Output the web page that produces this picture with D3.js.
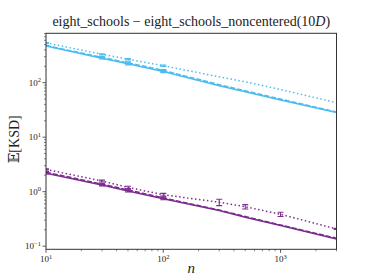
<!DOCTYPE html>
<html>
<head>
<meta charset="utf-8">
<script src="https://cdn.jsdelivr.net/npm/d3@7"></script>
<style>
  body { margin: 0; background: #fff; }
</style>
</head>
<body>
<div id="chart"></div>
<script>
// sample sizes
const nValues = [10, 30, 50, 100, 300, 500, 1000, 3000];

// blue series (solid / dashed / dotted)
const blueSolid  = [470, 282, 222, 160, 88, 68, 48, 28.5];
const blueDashed = [480, 292, 232, 168, 92, 71, 50, 29];
const blueDotted = [540, 332, 270, 205, 128, 104, 75, 43];
const blueErr    = [8, 10, 10, 7, 0, 0, 0, 0];
const blueDotErr = [8, 8, 8, 6, 0, 0, 0, 0];

// purple series (solid / dashed / dotted)
const purpleSolid  = [2.17, 1.33, 1.03, 0.74, 0.45, 0.34, 0.24, 0.135];
const purpleDashed = [2.28, 1.38, 1.08, 0.77, 0.46, 0.35, 0.245, 0.14];
const purpleDotted = [2.57, 1.57, 1.2, 0.88, 0.64, 0.53, 0.385, 0.207];
const purpleErr    = [0.05, 0.05, 0.04, 0.03, 0, 0, 0, 0];
const purpleDotErr = [0.06, 0.06, 0.06, 0.05, 0.085, 0.05, 0.035, 0.005];

const xTicks = [10, 100, 1000];
const yTicks = [0.1, 1, 10, 100];

const blue = '#4cbcf0';
const purple = '#7b2d8e';
const serif = '"Liberation Serif", "DejaVu Serif", serif';

const series = [
  { vals: blueSolid,    err: blueErr,      color: blue,   dash: null },
  { vals: blueDashed,   err: blueErr,      color: blue,   dash: '5,2' },
  { vals: blueDotted,   err: blueDotErr,   color: blue,   dash: '1.5,2.5' },
  { vals: purpleSolid,  err: purpleErr,    color: purple, dash: null },
  { vals: purpleDashed, err: purpleErr,    color: purple, dash: '5,2' },
  { vals: purpleDotted, err: purpleDotErr, color: purple, dash: '1.5,2.5' }
];

const W = 374, H = 280;
const margin = { top: 33.3, right: 37.5, bottom: 30.7, left: 46 };
const width = W - margin.left - margin.right;
const height = H - margin.top - margin.bottom;

const svg = d3.select('#chart').append('svg')
  .attr('width', W).attr('height', H)
  .attr('font-family', serif);

const g = svg.append('g')
  .attr('transform', `translate(${margin.left},${margin.top})`);

const x = d3.scaleLog().domain([10, 3000]).range([0, width]);
const y = d3.scaleLog().domain([0.0877, 806]).range([height, 0]);

g.append('clipPath').attr('id', 'clip')
  .append('rect').attr('width', width).attr('height', height);

const plot = g.append('g').attr('clip-path', 'url(#clip)');

const line = d3.line()
  .x(d => x(d.n))
  .y(d => y(d.v));

series.forEach(s => {
  const pts = nValues.map((n, i) => ({ n: n, v: s.vals[i], e: s.err[i] }));
  plot.append('path')
    .datum(pts)
    .attr('d', line)
    .attr('fill', 'none')
    .attr('stroke', s.color)
    .attr('stroke-width', 1.5)
    .attr('stroke-dasharray', s.dash);

  // error bars with caps (only where there is an error)
  const eb = plot.append('g').selectAll('g').data(pts.filter(d => d.e > 0)).enter().append('g');
  eb.append('line')
    .attr('x1', d => x(d.n)).attr('x2', d => x(d.n))
    .attr('y1', d => y(d.v - d.e)).attr('y2', d => y(d.v + d.e))
    .attr('stroke', s.color).attr('stroke-width', 1.1);
  [-1, 1].forEach(sign => {
    eb.append('line')
      .attr('x1', d => x(d.n) - 3).attr('x2', d => x(d.n) + 3)
      .attr('y1', d => y(d.v + sign * d.e)).attr('y2', d => y(d.v + sign * d.e))
      .attr('stroke', s.color).attr('stroke-width', 1.1);
  });
});

// minor ticks
const xMinor = [];
[10, 100, 1000].forEach(b => { for (let k = 2; k <= 9; k++) if (b * k <= 3000) xMinor.push(b * k); });
const yMinor = [];
[0.1, 1, 10, 100].forEach(b => { for (let k = 2; k <= 9; k++) if (b * k <= 806) yMinor.push(b * k); });

const axisColor = '#333';

g.append('g').selectAll('line').data(xMinor).enter().append('line')
  .attr('x1', d => x(d)).attr('x2', d => x(d))
  .attr('y1', height).attr('y2', height + 2)
  .attr('stroke', axisColor).attr('stroke-width', 0.6);
g.append('g').selectAll('line').data(xTicks).enter().append('line')
  .attr('x1', d => x(d)).attr('x2', d => x(d))
  .attr('y1', height).attr('y2', height + 3.5)
  .attr('stroke', axisColor).attr('stroke-width', 0.8);

g.append('g').selectAll('line').data(yMinor).enter().append('line')
  .attr('x1', -2).attr('x2', 0)
  .attr('y1', d => y(d)).attr('y2', d => y(d))
  .attr('stroke', axisColor).attr('stroke-width', 0.6);
g.append('g').selectAll('line').data(yTicks).enter().append('line')
  .attr('x1', -3.5).attr('x2', 0)
  .attr('y1', d => y(d)).attr('y2', d => y(d))
  .attr('stroke', axisColor).attr('stroke-width', 0.8);

// tick labels as 10^k
function powLabel(sel, d) {
  const k = Math.round(Math.log10(d));
  sel.append('tspan').text('10');
  sel.append('tspan').attr('dy', -3.5).attr('font-size', 6.5)
    .text(k < 0 ? '\u2212' + (-k) : String(k));
}

g.append('g').selectAll('text').data(xTicks).enter().append('text')
  .attr('x', d => x(d)).attr('y', height + 13)
  .attr('text-anchor', 'middle')
  .attr('font-size', 9).attr('fill', '#222')
  .each(function (d) { powLabel(d3.select(this), d); });

g.append('g').selectAll('text').data(yTicks).enter().append('text')
  .attr('x', -5).attr('y', d => y(d) + 3)
  .attr('text-anchor', 'end')
  .attr('font-size', 9).attr('fill', '#222')
  .each(function (d) { powLabel(d3.select(this), d); });

// frame
g.append('rect')
  .attr('width', width).attr('height', height)
  .attr('fill', 'none').attr('stroke', axisColor).attr('stroke-width', 1);

// title
const title = svg.append('text')
  .attr('x', margin.left + width / 2).attr('y', 26)
  .attr('text-anchor', 'middle')
  .attr('font-size', 14).attr('fill', '#222');
title.append('tspan').text('eight_schools \u2212 eight_schools_noncentered(10');
title.append('tspan').attr('font-style', 'italic').text('D');
title.append('tspan').text(')');

// axis labels
svg.append('text')
  .attr('x', margin.left + width / 2).attr('y', 273)
  .attr('text-anchor', 'middle')
  .attr('font-size', 15).attr('font-style', 'italic').attr('fill', '#222')
  .text('n');

svg.append('text')
  .attr('transform', `translate(19,${margin.top + height / 2 - 2}) rotate(-90)`)
  .attr('text-anchor', 'middle')
  .attr('font-size', 14).attr('fill', '#222')
  .text('\ud835\udd3c[KSD]');
</script>
</body>
</html>
